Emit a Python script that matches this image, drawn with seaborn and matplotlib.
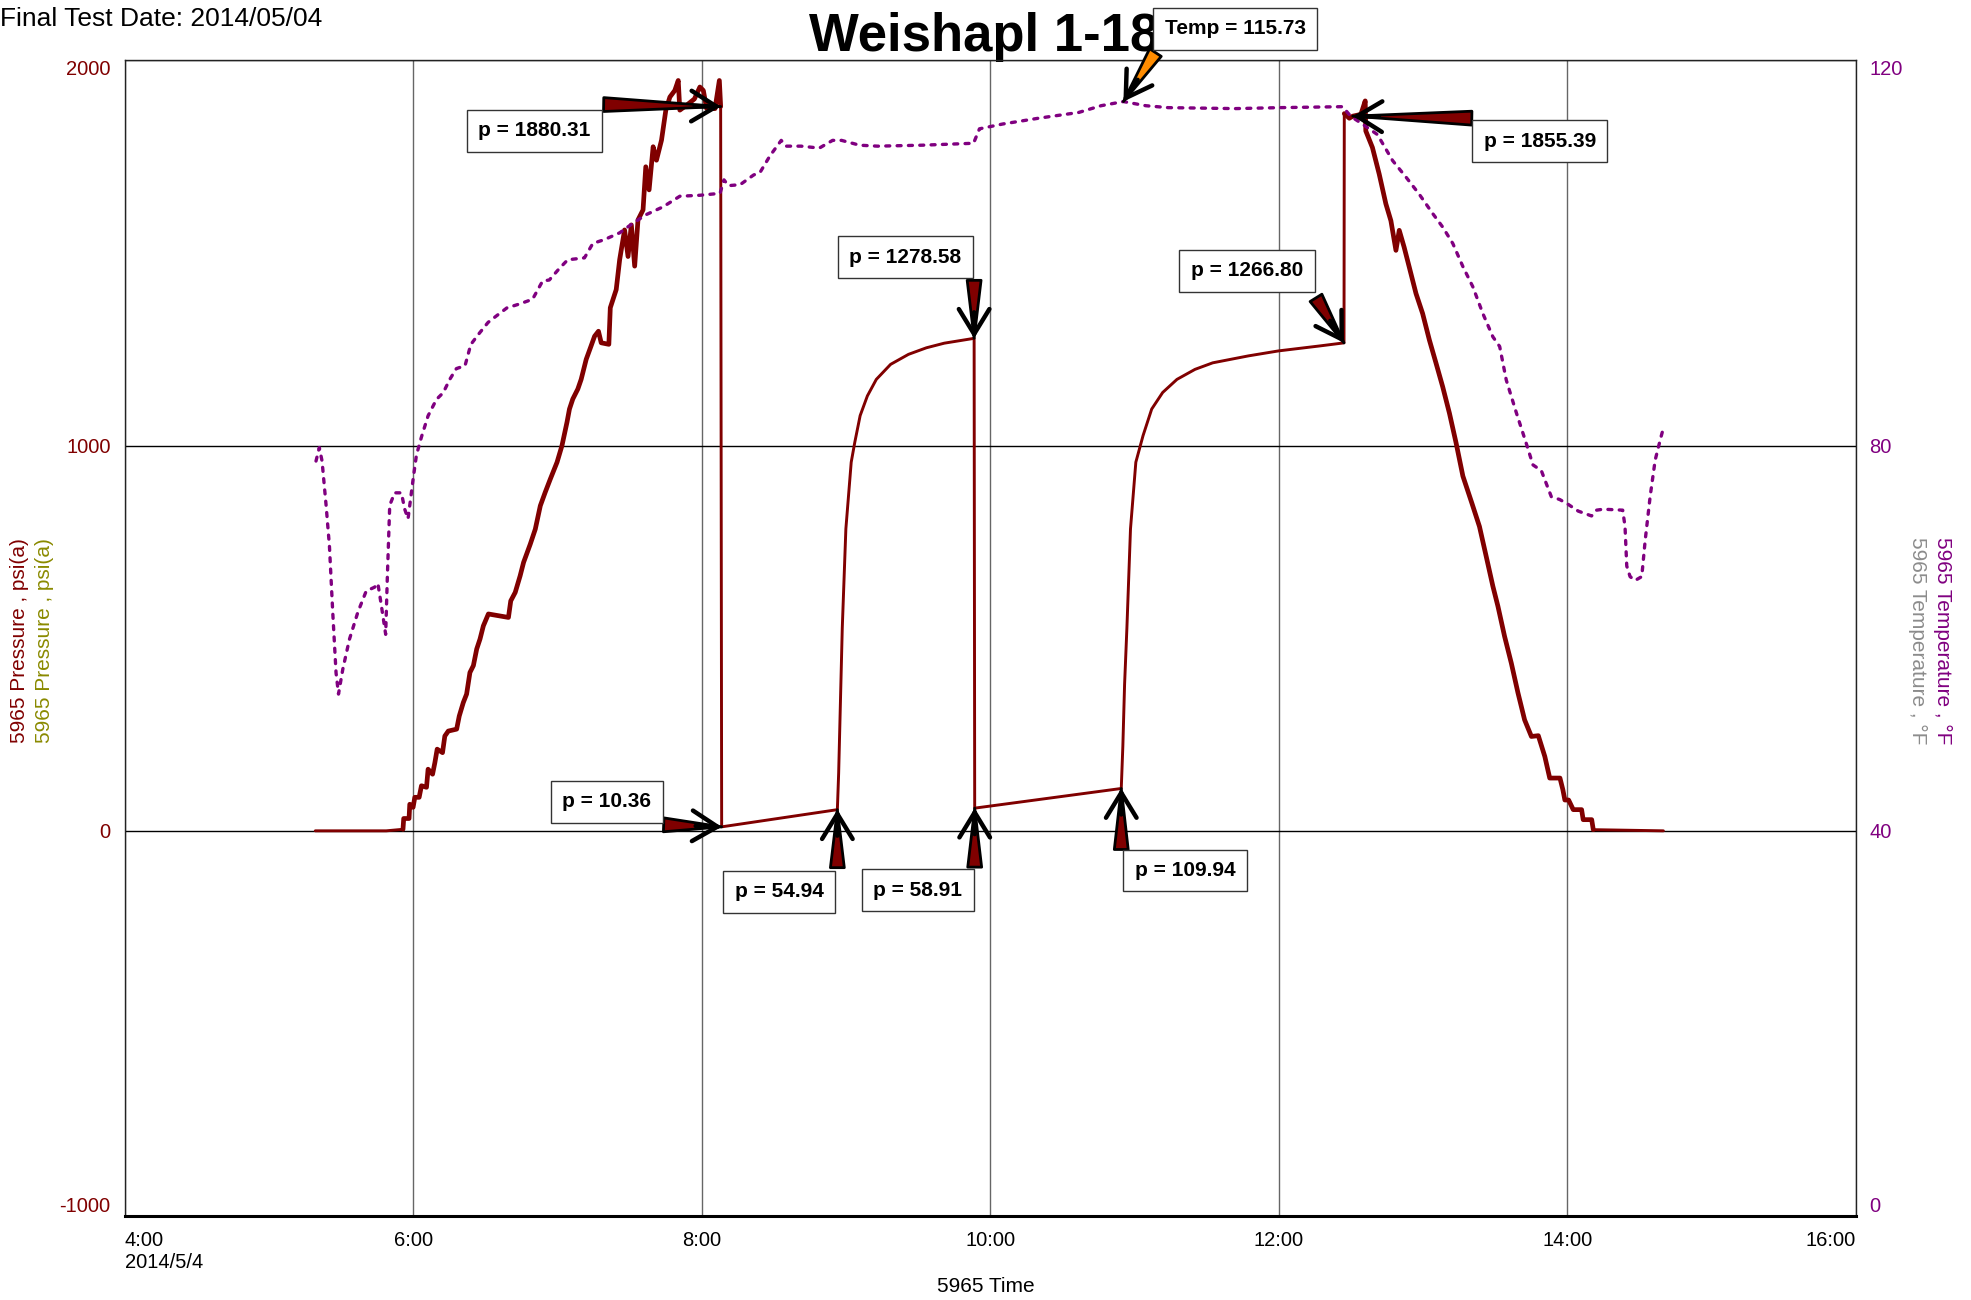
import matplotlib
matplotlib.use("Agg")
import matplotlib.pyplot as plt
import seaborn as sns
import pandas as pd
import numpy as np

# ---------------- data (hours of day, psi(a), degF) ----------------
press_time = [5.322, 5.814, 5.930, 5.935, 5.972, 5.977, 6.000, 6.012, 6.042, 6.058,
              6.093, 6.104, 6.135, 6.151, 6.167, 6.204, 6.220, 6.244, 6.302, 6.320,
              6.348, 6.371, 6.394, 6.418, 6.441, 6.464, 6.487, 6.522, 6.661, 6.677,
              6.708, 6.742, 6.766, 6.812, 6.847, 6.882, 6.916, 6.951, 6.998, 7.032,
              7.067, 7.084, 7.107, 7.142, 7.165, 7.200, 7.234, 7.258, 7.285, 7.304,
              7.357, 7.367, 7.408, 7.432, 7.466, 7.490, 7.513, 7.536, 7.559, 7.594,
              7.613, 7.636, 7.664, 7.687, 7.722, 7.752, 7.780, 7.814, 7.838, 7.849,
              7.900, 7.950, 7.988, 8.012, 8.035, 8.093, 8.123, 8.132, 8.139,
              8.941, 8.950, 8.960, 8.968, 8.975, 9.000, 9.037, 9.062, 9.099, 9.149,
              9.211, 9.310, 9.434, 9.558, 9.682, 9.889, 9.893,
              10.909, 10.920, 10.932, 10.948, 10.973, 11.010, 11.060, 11.120, 11.196,
              11.295, 11.420, 11.543, 11.790, 12.000, 12.288, 12.453,
              12.455, 12.490, 12.514, 12.570, 12.600, 12.604, 12.650, 12.697, 12.743,
              12.778, 12.813, 12.836, 12.870, 12.905, 12.952, 12.998, 13.045, 13.091,
              13.137, 13.184, 13.230, 13.277, 13.340, 13.392, 13.439, 13.485, 13.520,
              13.566, 13.613, 13.659, 13.705, 13.752, 13.800, 13.845, 13.879, 13.950,
              13.970, 13.984, 14.010, 14.042, 14.100, 14.111, 14.170, 14.181, 14.667]
press_psi = [0, 0, 4, 32, 32, 69, 61, 87, 87, 117,
             113, 160, 147, 177, 212, 203, 246, 259, 264, 298,
             333, 355, 411, 429, 472, 498, 532, 563, 554, 597,
             619, 662, 697, 744, 783, 844, 879, 913, 957, 1000,
             1061, 1095, 1121, 1147, 1172, 1224, 1259, 1284, 1297, 1267,
             1263, 1358, 1405, 1483, 1560, 1491, 1573, 1466, 1586, 1612,
             1724, 1664, 1776, 1741, 1793, 1871, 1905, 1922, 1948, 1871,
             1885, 1900, 1931, 1922, 1875, 1875, 1948, 1880.31, 10.36,
             54.94, 150, 300, 420, 526, 784, 957, 1009, 1078, 1129,
             1172, 1211, 1237, 1254, 1266, 1278.58, 58.91,
             109.94, 220, 380, 526, 784, 957, 1026, 1095, 1138,
             1172, 1198, 1215, 1233, 1246, 1259, 1266.80,
             1862, 1850, 1855.39, 1860, 1895, 1817, 1774, 1705, 1628,
             1584, 1507, 1559, 1515, 1464, 1395, 1343, 1274, 1214,
             1153, 1084, 1007, 921, 850, 790, 712, 635, 583,
             505, 435, 358, 288, 245, 247, 193, 137, 137,
             107, 80, 80, 55, 55, 29, 29, 3, 0]

temp_time = [5.327, 5.350, 5.369, 5.397, 5.420, 5.443, 5.466, 5.483, 5.513, 5.559,
             5.617, 5.675, 5.733, 5.756, 5.780, 5.810, 5.821, 5.838, 5.872, 5.919,
             5.942, 5.965, 5.977, 6.000, 6.023, 6.058, 6.104, 6.162, 6.209, 6.255,
             6.300, 6.360, 6.400, 6.450, 6.520, 6.580, 6.650, 6.735, 6.828, 6.898,
             6.944, 7.014, 7.072, 7.188, 7.246, 7.327, 7.432, 7.524, 7.617, 7.733,
             7.849, 7.988, 8.128, 8.155, 8.186, 8.267, 8.360, 8.406, 8.474, 8.552,
             8.583, 8.690, 8.816, 8.908, 8.970, 9.095, 9.219, 9.530, 9.885, 9.926,
             10.087, 10.335, 10.614, 10.769, 10.924, 11.079, 11.234, 11.699, 12.009, 12.443,
             12.500, 12.580, 12.685, 12.790, 12.882, 12.975, 13.068, 13.137, 13.207, 13.277,
             13.346, 13.416, 13.485, 13.532, 13.578, 13.648, 13.717, 13.763, 13.821, 13.890,
             13.949, 14.007, 14.077, 14.169, 14.204, 14.250, 14.385, 14.401, 14.413, 14.436,
             14.471, 14.517, 14.541, 14.575, 14.610, 14.645, 14.670]
temp_F = [78.4, 79.8, 78.4, 73.8, 69.6, 62.7, 56.4, 54.2, 56.8, 59.9,
          62.7, 64.9, 65.3, 65.7, 63.4, 60.4, 66.1, 73.8, 75.1, 75.1,
          73.4, 72.4, 73.8, 76.5, 79.0, 80.9, 83.1, 84.8, 85.5, 86.9,
          88.0, 88.3, 90.5, 91.5, 92.8, 93.5, 94.3, 94.7, 95.2, 97.1,
          97.2, 98.4, 99.3, 99.5, 101.0, 101.4, 102.1, 103.1, 104.0, 104.8,
          105.9, 106.0, 106.2, 107.6, 107.0, 107.1, 108.1, 108.4, 110.1, 111.7,
          111.1, 111.1, 110.9, 111.7, 111.7, 111.2, 111.1, 111.2, 111.4, 112.9,
          113.4, 114.0, 114.6, 115.3, 115.73, 115.3, 115.1, 115.0, 115.1, 115.2,
          114.2, 113.4, 112.3, 109.6, 107.9, 106.1, 104.1, 102.7, 101.0, 98.6,
          96.5, 93.7, 91.3, 90.3, 86.8, 83.4, 80.2, 78.0, 77.4, 74.7,
          74.4, 73.9, 73.2, 72.7, 73.3, 73.4, 73.3, 71.6, 67.5, 66.4,
          66.0, 66.4, 70.2, 74.7, 78.5, 80.6, 82.0]

x_ticks = [4, 6, 8, 10, 12, 14, 16]
x_tick_labels = ["4:00\n2014/5/4", "6:00", "8:00", "10:00", "12:00", "14:00", "16:00"]
p_ticks = [-1000, 0, 1000, 2000]
t_ticks = [0, 40, 80, 120]

press_marks = [1880.31, 10.36, 54.94, 1278.58, 58.91, 109.94, 1266.80, 1855.39]
temp_mark = 115.73

# layout of the callouts (pixels relative to the marked point): arrow tail, box centre
press_layout = {
    1880.31: ((-117, 2), (-186, -24)),
    10.36: ((-58, 2), (-115, 25)),
    54.94: ((0, -58), (-58, -82)),
    1278.58: ((0, 58), (-69, 81)),
    58.91: ((0, -59), (-57, -82)),
    109.94: ((0, -61), (64, -82)),
    1266.80: ((-28, 45), (-97, 72)),
    1855.39: ((119, -2), (187, -25)),
}
temp_layout = ((32, 49), (112, 73))

# ---------------- style ----------------
sns.set_theme(style="white")
plt.rcParams["font.family"] = ["Liberation Sans", "DejaVu Sans"]

PRESS_C = "#800000"
TEMP_C = "#800080"

fig = plt.figure(figsize=(19.71, 13.0), dpi=100)
L, R, B, T = 0.0632, 0.9415, 0.0646, 0.9535
ax = fig.add_axes([L, B, R - L, T - B])
ax2 = ax.twinx()

pdf = pd.DataFrame({"time": press_time, "psi": press_psi})
tdf = pd.DataFrame({"time": temp_time, "degF": temp_F})

sns.lineplot(data=pdf, x="time", y="psi", ax=ax, color=PRESS_C, linewidth=2.1,
             estimator=None, sort=False, zorder=3)
# the noisy ramp-up and bleed-down sections read thicker in the reference
ramp = pdf[(pdf.time >= 5.93) & (pdf.time <= 8.132)]
bleed = pdf[(pdf.time >= 12.455) & (pdf.time <= 14.181)]
for seg in (ramp, bleed):
    sns.lineplot(data=seg, x="time", y="psi", ax=ax, color=PRESS_C, linewidth=3.4,
                 estimator=None, sort=False, zorder=3)

sns.lineplot(data=tdf, x="time", y="degF", ax=ax2, color=TEMP_C, linewidth=2.4,
             estimator=None, sort=False, zorder=3)
for ln in ax2.get_lines():
    ln.set_dashes((1.2, 2.2))
    ln.set_dash_capstyle("round")

ax.set_xlim(4, 16)
ax.set_ylim(-1000, 2000)
ax2.set_ylim(0, 120)

ax.set_xticks(x_ticks)
ax.set_xticklabels(x_tick_labels, fontsize=14.5, color="black")
ax.set_yticks(p_ticks)
ax.set_yticklabels([str(v) for v in p_ticks], fontsize=14.5, color=PRESS_C)
ax2.set_yticks(t_ticks)
ax2.set_yticklabels([str(v) for v in t_ticks], fontsize=14.5, color=TEMP_C)

ax.tick_params(axis="x", length=0, pad=11)
ax.tick_params(axis="y", length=0, pad=10)
ax2.tick_params(axis="y", length=0, pad=10)

xl = ax.get_xticklabels()
xl[0].set_ha("left")
xl[0].set_multialignment("left")
xl[-1].set_ha("right")
yl = ax.get_yticklabels()
yl[0].set_va("bottom")
yl[-1].set_va("top")
yl2 = ax2.get_yticklabels()
yl2[0].set_va("bottom")
yl2[-1].set_va("top")

ax.set_xlabel("")
ax.set_ylabel("")
ax2.set_ylabel("")

ax.xaxis.grid(True, color="#666666", linewidth=1.0)
ax.yaxis.grid(True, color="black", linewidth=1.0)
ax2.grid(False)
ax.set_axisbelow(True)

for s in ["left", "right", "top"]:
    ax.spines[s].set_color("#222222")
    ax.spines[s].set_linewidth(1.0)
ax.spines["bottom"].set_color("black")
ax.spines["bottom"].set_linewidth(2.2)
for s in ax2.spines.values():
    s.set_visible(False)

# ---------------- texts ----------------
ax.text((L + R) / 2 - 0.003, 1 - 50.5 / 1300, "Weishapl 1-18", transform=fig.transFigure,
        ha="center", va="baseline", fontsize=38, fontweight="bold", color="black",
        zorder=1, clip_on=False)
fig.text(0.0, 1 - 26 / 1300, "Final Test Date: 2014/05/04", ha="left", va="baseline",
         fontsize=19, color="black")
fig.text(0.5, 0.0100, "5965 Time", ha="center", va="center", fontsize=15, color="black")

yc = 0.507
fig.text(20 / 1971, yc, "5965 Pressure , psi(a)", rotation=90, ha="center", va="center",
         fontsize=15, color=PRESS_C)
fig.text(45 / 1971, yc, "5965 Pressure , psi(a)", rotation=90, ha="center", va="center",
         fontsize=15, color="#8a8a00")
fig.text(1943 / 1971, yc, "5965 Temperature , \u00b0F", rotation=270, ha="center", va="center",
         fontsize=15, color=TEMP_C)
fig.text(1918 / 1971, yc, "5965 Temperature , \u00b0F", rotation=270, ha="center", va="center",
         fontsize=15, color="#8c8c8c")


# ---------------- callouts ----------------
def callout(tip, coords, tail, box, label, fill):
    ax2.annotate("", xy=tip, xycoords=coords, xytext=tail, textcoords="offset pixels",
                 arrowprops=dict(arrowstyle="wedge,tail_width=0.5,shrink_factor=0.5",
                                 fc=fill, ec="black", lw=2.0, mutation_scale=20,
                                 shrinkA=0, shrinkB=0),
                 zorder=9, annotation_clip=False)
    u = np.array(tail, dtype=float)
    u = u / np.hypot(*u) * 26
    ax2.annotate("", xy=tip, xycoords=coords, xytext=(u[0], u[1]), textcoords="offset pixels",
                 arrowprops=dict(arrowstyle="->,head_length=0.9,head_width=0.55",
                                 color="black", lw=3.2, mutation_scale=20,
                                 shrinkA=0, shrinkB=0, capstyle="round", joinstyle="round"),
                 zorder=9, annotation_clip=False)
    ax2.annotate(label, xy=tip, xycoords=coords, xytext=box, textcoords="offset pixels",
                 ha="center", va="center", fontsize=15, fontweight="bold", color="black",
                 bbox=dict(boxstyle="square,pad=0.55", fc="white", ec="#333333", lw=1.0),
                 zorder=10, annotation_clip=False)


for v in press_marks:
    i = press_psi.index(v)
    tail, box = press_layout[v]
    callout((press_time[i], press_psi[i]), ax.transData, tail, box, f"p = {v:.2f}", PRESS_C)

j = temp_F.index(temp_mark)
callout((temp_time[j], temp_F[j]), ax2.transData, temp_layout[0], temp_layout[1],
        f"Temp = {temp_mark:.2f}", "#ff8c00")

fig.savefig("out.png", dpi=100)
